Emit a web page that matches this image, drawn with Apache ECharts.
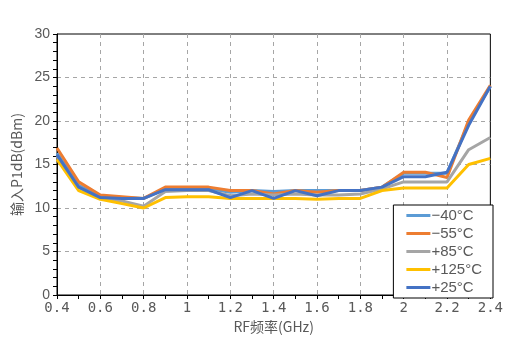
<!DOCTYPE html>
<html>
<head>
<meta charset="utf-8">
<script src="https://cdn.jsdelivr.net/npm/echarts@6/dist/echarts.min.js"></script>
<style>
  html, body { margin: 0; padding: 0; background: #fff; }
  #chart { width: 506px; height: 341px; }
</style>
</head>
<body>
<div id="chart"></div>
<script>
// RF frequency points (GHz)
const freqs = [0.4, 0.5, 0.6, 0.7, 0.8, 0.9, 1.0, 1.1, 1.2, 1.3, 1.4, 1.5, 1.6, 1.7, 1.8, 1.9, 2.0, 2.1, 2.2, 2.3, 2.4];

// Input P1dB (dBm) at each temperature
const tM40  = [16.3, 12.6, 11.3, 11.2, 11.1, 12.2, 12.2, 12.2, 11.8, 12.0, 11.9, 12.0, 12.0, 12.0, 12.0, 12.4, 14.0, 14.0, 14.0, 19.8, 24.0];
const tM55  = [16.9, 13.0, 11.5, 11.3, 11.1, 12.4, 12.4, 12.4, 12.0, 12.0, 11.6, 12.0, 11.8, 12.0, 12.0, 12.4, 14.1, 14.1, 13.5, 20.1, 24.1];
const tP85  = [16.0, 12.4, 11.1, 10.8, 10.2, 11.9, 12.0, 12.0, 11.4, 11.6, 11.5, 11.6, 11.5, 11.5, 11.6, 12.2, 13.0, 13.0, 13.0, 16.7, 18.1];
const tP125 = [15.6, 12.0, 11.0, 10.5, 10.0, 11.2, 11.3, 11.3, 11.1, 11.1, 11.1, 11.1, 11.0, 11.1, 11.1, 12.0, 12.3, 12.3, 12.3, 15.0, 15.7];
const tP25  = [16.1, 12.4, 11.2, 11.1, 11.1, 12.1, 12.1, 12.1, 11.2, 12.0, 11.1, 12.0, 11.4, 12.0, 12.0, 12.4, 13.6, 13.6, 14.1, 19.5, 24.0];

const seriesNames = ['\u221240\u00B0C', '\u221255\u00B0C', '+85\u00B0C', '+125\u00B0C', '+25\u00B0C'];
const seriesData = [tM40, tM55, tP85, tP125, tP25];
const seriesColors = ['#5B9BD5', '#ED7D31', '#A5A5A5', '#FFC000', '#4472C4'];

const chart = echarts.init(document.getElementById('chart'), null, { renderer: 'canvas' });

const textGrey = '#595959';
const gridDash = { color: '#A6A6A6', width: 1, type: [4, 4] };

chart.setOption({
  animation: false,
  backgroundColor: '#fff',
  grid: {
    left: 57, right: 13, top: 34, bottom: 46,
    show: true, borderColor: '#000', borderWidth: 1, backgroundColor: 'transparent'
  },
  legend: {
    orient: 'vertical',
    right: 13, top: 205,
    backgroundColor: '#fff',
    borderColor: '#000', borderWidth: 1, borderRadius: 0,
    padding: [3, 11, 3, 13],
    itemWidth: 24, itemHeight: 3, itemGap: 3,
    icon: 'rect',
    textStyle: { color: textGrey, fontFamily: 'Liberation Sans', fontSize: 15, lineHeight: 14, padding: [0, 0, 0, -4] },
    data: seriesNames
  },
  xAxis: {
    type: 'value',
    min: 0.4, max: 2.4, interval: 0.2,
    name: 'RF频率(GHz)',
    nameLocation: 'middle', nameGap: 25,
    nameTextStyle: { color: textGrey, fontFamily: 'Noto Sans CJK SC', fontSize: 14 },
    axisLine: { show: true, lineStyle: { color: '#000', width: 1 } },
    axisTick: { show: true, length: 4, lineStyle: { color: '#000' } },
    minorTick: { show: true, splitNumber: 2, length: 4, lineStyle: { color: '#000' } },
    axisLabel: {
      color: textGrey, fontFamily: 'DejaVu Sans Mono', fontSize: 14, margin: 6,
      formatter: v => String(Math.round(v * 10) / 10)
    },
    splitLine: { show: true, showMinLine: false, showMaxLine: false, lineStyle: gridDash }
  },
  yAxis: {
    type: 'value',
    min: 0, max: 30, interval: 5,
    name: '输入P1dB(dBm)',
    nameLocation: 'middle', nameGap: 32,
    nameTextStyle: { color: textGrey, fontFamily: 'Noto Sans CJK SC', fontSize: 14 },
    axisLine: { show: true, lineStyle: { color: '#000', width: 1 } },
    axisTick: { show: true, length: 4, lineStyle: { color: '#000' } },
    minorTick: { show: true, splitNumber: 5, length: 4, lineStyle: { color: '#000' } },
    axisLabel: { color: textGrey, fontFamily: 'Liberation Sans', fontSize: 14, margin: 7 },
    splitLine: { show: true, showMinLine: false, showMaxLine: false, lineStyle: gridDash }
  },
  series: seriesNames.map((name, i) => ({
    name,
    type: 'line',
    data: freqs.map((f, j) => [f, seriesData[i][j]]),
    showSymbol: false,
    symbol: 'none',
    lineStyle: { color: seriesColors[i], width: 3 },
    itemStyle: { color: seriesColors[i] },
    z: 2 + i
  }))
});
</script>
</body>
</html>
